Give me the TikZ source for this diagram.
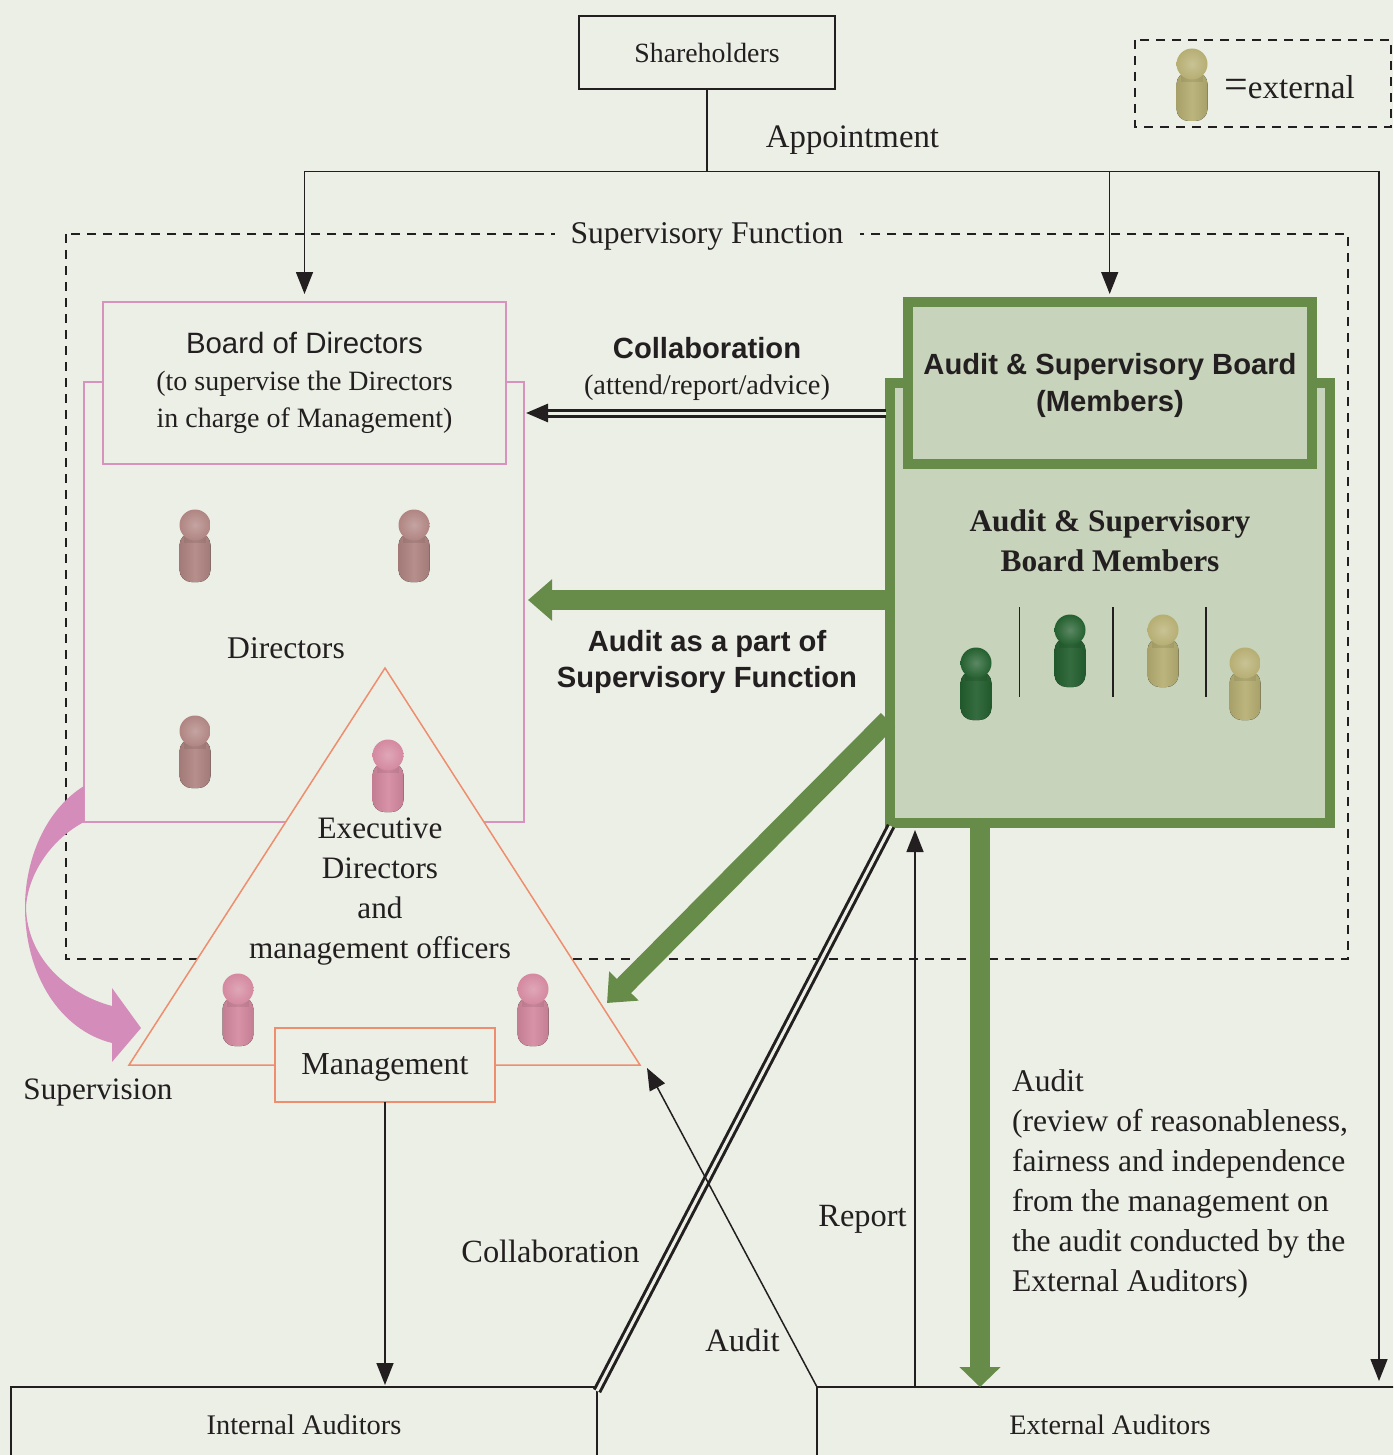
\documentclass[tikz,border=0pt]{standalone}
\usepackage{fontspec}
\setmainfont{Liberation Serif}
\newfontfamily\hsans{Liberation Sans}
\usetikzlibrary{arrows.meta}
\definecolor{bgc}{RGB}{236,239,230}
\definecolor{pinkline}{RGB}{216,146,190}
\definecolor{pinkarrow}{RGB}{212,141,186}
\definecolor{salmon}{RGB}{238,142,110}
\definecolor{grn}{RGB}{103,140,73}
\definecolor{grnfill}{RGB}{199,211,186}
\definecolor{ink}{RGB}{35,31,32}
\definecolor{pmuted}{RGB}{176,133,130}
\definecolor{ppink}{RGB}{212,137,160}
\definecolor{pdark}{RGB}{36,96,47}
\definecolor{polive}{RGB}{182,174,114}
\newcommand{\fsz}[1]{\fontsize{#1}{20}\selectfont}
\newcommand{\serifsz}{\fsz{15.6}}
\newcommand{\pawn}[3]{%
  \begin{scope}[shift={(#1,#2)}]
    \fill[left color=#3!92!black, right color=#3!92!black, middle color=#3!92!white, rounded corners=6pt]
      (-15.5,23) rectangle (15.5,72);
    \fill[#3!75!black, opacity=.3] (-11,23) rectangle (11,33);
    \shade[inner color=#3!75!white, outer color=#3] (0,15) circle (15.5);
  \end{scope}}
\tikzset{
  x=0.5pt, y=-0.5pt,
  lbl/.style={font=\serifsz, text=ink, inner sep=0, outer sep=0, align=center},
  lblbase/.style={lbl, anchor=base},
  sansb/.style={font=\hsans\bfseries\fontsize{14.6}{18.5}\selectfont, text=ink, inner sep=0, outer sep=0, align=center},
  blackbox/.style={draw=ink, line width=.75pt, fill=bgc, inner sep=0, outer sep=0, text=ink},
  thin arrow/.style={draw=ink, line width=.75pt, -{Triangle[length=11pt,width=8.5pt]}},
  thin link/.style={draw=ink, line width=.75pt},
  dbl link/.style={draw=ink, line width=1.5pt, double=bgc, double distance=1.5pt},
  green arrow/.style={draw=grn, line width=10pt, -{Triangle[length=12pt,width=20pt]}},
  greenbox/.style={draw=grn, line width=5pt, fill=grnfill, inner sep=0, outer sep=0},
}
\begin{document}
\begin{tikzpicture}
\useasboundingbox (0,0) rectangle (1393,1455);
\clip (0,0) rectangle (1393,1455);
\fill[bgc] (0,0) rectangle (1393,1455);

% supervisory frame
\draw[draw=ink, line width=.75pt, dash pattern=on 4.5pt off 3.5pt] (66,234) rectangle (1348,959);
\node[lblbase, font=\fsz{15.8}, fill=bgc, inner xsep=8pt, inner ysep=3pt, text depth=2pt] (supf) at (707,243) {Supervisory Function};

% top boxes
\node[blackbox, minimum width=128pt, minimum height=36.5pt, font=\fsz{13.9}] (share) at (707,52.5) {Shareholders};
\draw[draw=ink, line width=.75pt, dash pattern=on 4.5pt off 3.5pt] (1135,40) rectangle (1391,127);
\pawn{1192}{49}{polive}
\node[lbl] (ext) at (1289.5,87.5) {\fsz{16.6}{\fsz{21}=}external};
\node[lblbase, font=\fsz{16.4}] (appt) at (852.5,147.5) {Appointment};

% directors box
\node[draw=pinkline, line width=.75pt, fill=bgc, inner sep=0, outer sep=0, minimum width=220pt, minimum height=220pt] (dirs) at (304,602) {};
\node[draw=pinkline, line width=.75pt, fill=bgc, inner sep=0, outer sep=0, minimum width=201.5pt, minimum height=81pt, align=center, font=\fsz{14.0}, text=ink] (bod) at (304.5,383)
  {\rule{0pt}{10pt}{\hsans\fsz{14.7}Board of Directors}\\[-1.6pt](to supervise the Directors\\[-1.6pt]in charge of Management)};
\pawn{195}{510}{pmuted}
\pawn{414}{510}{pmuted}
\pawn{195}{716}{pmuted}
\node[lblbase, font=\fsz{15.8}] (dirl) at (286,658) {Directors};

% supervision arrow
\fill[pinkarrow] (84,786) .. controls (45,810) and (25,860) .. (25,907)
  .. controls (25,975) and (60,1030) .. (112,1043) -- (112,1062) -- (141,1028) -- (112,988) -- (112,1006)
  .. controls (70,995) and (27,960) .. (26,907)
  .. controls (28,875) and (50,840) .. (84,822) -- cycle;

% management triangle
\coordinate (tl) at (129,1065);
\coordinate (tr) at (640,1065);
\coordinate (ta) at (385,668);
\draw[draw=salmon, line width=.75pt, fill=bgc, line join=miter] (tl) -- (ta) -- (tr) -- cycle;
\pawn{388}{740}{ppink}
\pawn{238}{974}{ppink}
\pawn{533}{974}{ppink}
\node[lbl, font=\fsz{15.6}] (exec) at (380,892) {Executive\\Directors\\and\\management officers};
\node[draw=salmon, line width=.75pt, fill=bgc, inner sep=0, outer sep=0, minimum width=110pt, minimum height=37pt, font=\fsz{16}, text=ink, text height=10.5pt, text depth=1pt] (mgmt) at (385,1065) {Management};
\node[lblbase] (sup) at (98,1099) {Supervision};

% bottom boxes
\node[blackbox, minimum width=293pt, minimum height=38pt, font=\fsz{14.2}] (ia) at (304,1425) {Internal Auditors};
\node[blackbox, minimum width=293pt, minimum height=38pt, font=\fsz{14.1}] (ea) at (1110,1425) {External Auditors};

% connectors
\coordinate (junction) at (707,171.5);
\coordinate (rightcorner) at (1379,171.5);
\draw[thin link] (share.south) -- (junction);
\draw[thin link] (junction) -- (rightcorner);
\coordinate (leftcorner) at (bod.north |- junction);
\draw[thin arrow, shorten >=4pt] (junction) -- (leftcorner) -- (bod.north);
\coordinate (asbtop) at (1109.7,302);
\draw[thin arrow, shorten >=4pt] (asbtop |- junction) -- (asbtop);
\draw[thin arrow, shorten >=3pt] (rightcorner) -- (rightcorner |- ea.north);
\draw[thin arrow, shorten >=1pt] (mgmt.south) -- (mgmt.south |- ia.north);

% green member box
\node[greenbox, minimum width=220pt, minimum height=220pt] (memb) at (1110,603) {};
\node[greenbox, minimum width=202pt, minimum height=81pt] (asb) at (1110,383) {};
\node[sansb] (asbl) at (1110,385) {Audit \& Supervisory Board\\(Members)};
\node[font=\bfseries\fsz{15.7}, text=ink, align=center, inner sep=0] (membl) at (1110,541) {Audit \& Supervisory\\Board Members};
\pawn{976}{648}{pdark}
\pawn{1070}{615}{pdark}
\pawn{1163}{615}{polive}
\pawn{1245}{648}{polive}
\coordinate (s1) at (1019.6,607); \coordinate (s1b) at (1019.6,697);
\coordinate (s2) at (1113,607); \coordinate (s2b) at (1113,697);
\coordinate (s3) at (1206,607); \coordinate (s3b) at (1206,697);
\draw[thin link] (s1) -- (s1b);
\draw[thin link] (s2) -- (s2b);
\draw[thin link] (s3) -- (s3b);

% connectors to / from the green box
\coordinate (tipd) at (607,1003);
\draw[dbl link, -{Triangle[length=11pt,width=9pt]}, shorten <=2pt, shorten >=1pt] (memb.west |- 0,413) -- (dirs.east |- 0,413);
\draw[green arrow, shorten >=2pt] (memb.west |- 0,600) -- (dirs.east |- 0,600);
\draw[green arrow] (888,720) -- (tipd);
\draw[green arrow, -{Triangle[length=10pt,width=20pt]}] (980,826) -- (980,826 |- ea.north);
\draw[dbl link] (891,826) -- (597,1391);
\draw[thin arrow] (ea.north west) -- (647,1068);
\draw[thin arrow, shorten >=1pt] (915,1387) -- (915,828);

% labels
\node[sansb] (coll) at (707,348) {Collaboration};
\node[lblbase, font=\fsz{14.2}] (att) at (707,394) {(attend/report/advice)};
\node[sansb, font=\hsans\bfseries\fontsize{14.6}{18}\selectfont] (aud) at (707,662) {Audit as a part of\\Supervisory Function};
\node[lblbase, font=\fsz{16.2}] (coll2) at (550.5,1262) {Collaboration};
\node[lblbase, font=\fsz{16.2}] (rep) at (862.5,1226) {Report};
\node[lblbase, font=\fsz{16.3}] (aud2) at (742.5,1351) {Audit};
\node[lbl, align=left, anchor=west, font=\fsz{15.8}] (audp) at (1012,1184) {Audit\\(review of reasonableness,\\fairness and independence\\from the management on\\the audit conducted by the\\External Auditors)};
\end{tikzpicture}
\end{document}
